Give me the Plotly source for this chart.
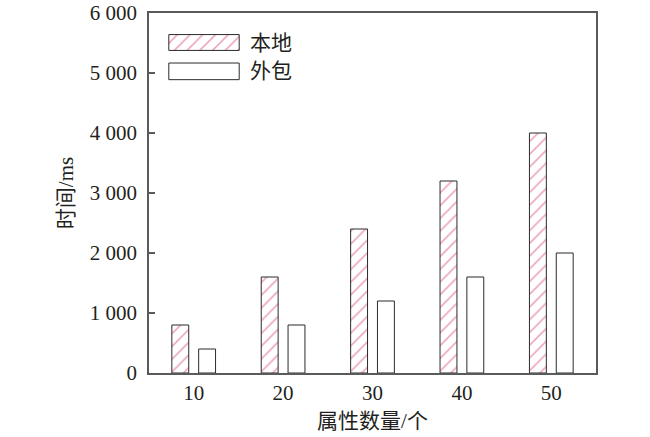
import plotly.graph_objects as go

categories = ["10", "20", "30", "40", "50"]
local_vals = [800, 1600, 2400, 3200, 4000]
outsrc_vals = [400, 800, 1200, 1600, 2000]
series_names = ["本地", "外包"]
y_tickvals = [0, 1000, 2000, 3000, 4000, 5000, 6000]
y_ticktext = ["0", "1 000", "2 000", "3 000", "4 000", "5 000", "6 000"]

FONT = "Liberation Serif, Times New Roman, Noto Sans CJK SC, serif"
TXT = "#231f20"
HATCH = "#d43a62"
EDGE = "#2b2b2b"
AX = "#5a5a5a"

hatch_marker = dict(color="white", line=dict(color=EDGE, width=1),
                    pattern=dict(shape="/", fgcolor=HATCH, bgcolor="white", size=9, solidity=0.17))
plain_marker = dict(color="white", line=dict(color=EDGE, width=1))

fig = go.Figure()
fig.add_trace(go.Bar(x=categories, y=local_vals, name=series_names[0], marker=hatch_marker, showlegend=False))
fig.add_trace(go.Bar(x=categories, y=outsrc_vals, name=series_names[1], marker=plain_marker, showlegend=False))

# legend patches drawn as bars on small dedicated axes
fig.add_trace(go.Bar(x=[0], y=[1], width=[1], marker=hatch_marker, xaxis="x2", yaxis="y2",
                     showlegend=False, hoverinfo="skip"))
fig.add_trace(go.Bar(x=[0], y=[1], width=[1], marker=plain_marker, xaxis="x3", yaxis="y3",
                     showlegend=False, hoverinfo="skip"))

def px_x(p):
    return (p - 149) / 447

def px_y(p):
    return (373 - p) / 360

pad = 0.04
lg1 = dict(x=(px_x(166), px_x(242)), y=(px_y(51.7), px_y(33.3)))
lg2 = dict(x=(px_x(166), px_x(242)), y=(px_y(81), px_y(61.7)))

hidden = dict(visible=False, fixedrange=True)
fig.update_layout(
    xaxis2=dict(domain=list(lg1["x"]), range=[-0.5 - pad, 0.5 + pad], anchor="y2", **hidden),
    yaxis2=dict(domain=list(lg1["y"]), range=[-pad * 2, 1 + pad * 2], anchor="x2", **hidden),
    xaxis3=dict(domain=list(lg2["x"]), range=[-0.5 - pad, 0.5 + pad], anchor="y3", **hidden),
    yaxis3=dict(domain=list(lg2["y"]), range=[-pad * 2, 1 + pad * 2], anchor="x3", **hidden),
)

for name, yc in [(series_names[0], px_y(42.5)), (series_names[1], px_y(71.3))]:
    fig.add_annotation(text=name, x=px_x(248), y=yc, xref="paper", yref="paper",
                       xanchor="left", yanchor="middle", showarrow=False,
                       font=dict(family=FONT, size=21, color=TXT))

fig.update_layout(
    width=650, height=437,
    margin=dict(l=149, r=54, t=13, b=64, autoexpand=False),
    paper_bgcolor="white", plot_bgcolor="white",
    barmode="group", bargap=0.40, bargroupgap=0.37,
    font=dict(family=FONT, size=21, color=TXT),
    xaxis=dict(
        domain=[0, 1], showline=True, linecolor=AX, linewidth=1.5, mirror=True,
        ticks="", showgrid=False, zeroline=False, automargin=False,
        tickfont=dict(family=FONT, size=21, color=TXT),
        title=dict(text="属性数量/个", font=dict(family=FONT, size=21, color=TXT), standoff=9),
    ),
    yaxis=dict(
        domain=[0, 1], range=[0, 6000], showline=True, linecolor=AX, linewidth=1.5, mirror=True,
        ticks="inside", ticklen=6, tickcolor=AX, tickwidth=1.5, automargin=False,
        tickvals=y_tickvals, ticktext=y_ticktext, showgrid=False, zeroline=False,
        tickfont=dict(family=FONT, size=21, color=TXT), ticklabelstandoff=6,
        title=dict(text="时间/ms", font=dict(family=FONT, size=21, color=TXT), standoff=10),
    ),
)

fig.write_html("out.html", config={"displayModeBar": False},
               post_script="document.body.style.margin='0';document.body.style.padding='0';")
